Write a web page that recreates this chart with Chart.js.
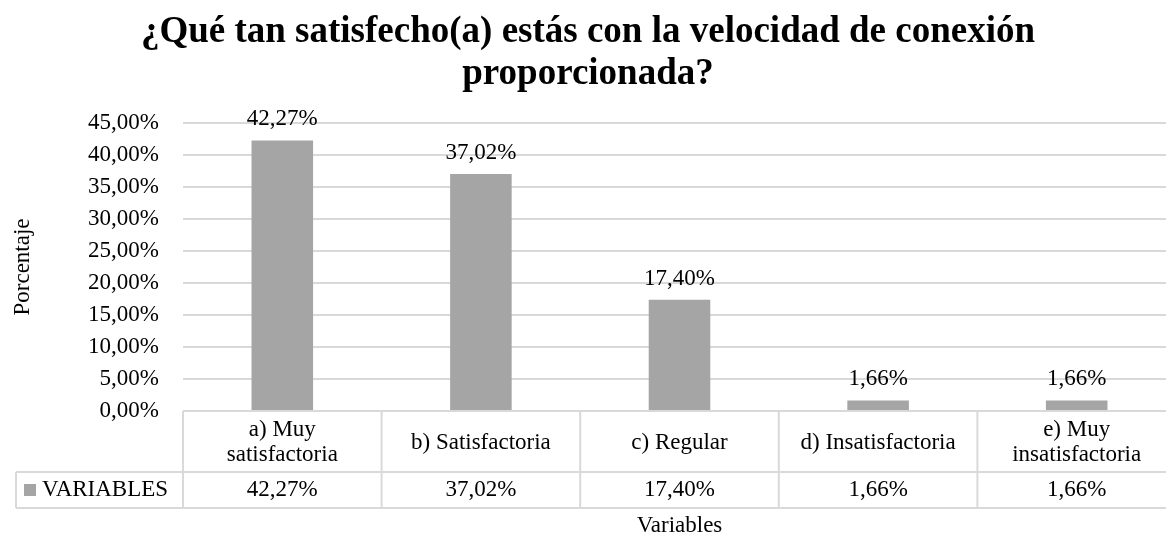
<!DOCTYPE html>
<html lang="es">
<head>
<meta charset="utf-8">
<title>Velocidad de conexión</title>
<script src="https://cdn.jsdelivr.net/npm/chart.js@4.4.1/dist/chart.umd.min.js"></script>
<style>
  html, body { margin: 0; padding: 0; background: #fff; overflow: hidden; }
  #wrap { width: 1180px; height: 541px; position: relative; }
</style>
</head>
<body>
<div id="wrap"><canvas id="chart"></canvas></div>
<script>
// ------------------------------------------------------------
// Data
// ------------------------------------------------------------
const CATEGORIES = [
  ['a) Muy', 'satisfactoria'],
  ['b) Satisfactoria'],
  ['c) Regular'],
  ['d) Insatisfactoria'],
  ['e) Muy', 'insatisfactoria']
];
const VALUES = [42.27, 37.02, 17.40, 1.66, 1.66];
const SERIES_NAME = 'VARIABLES';
const Y_MAX = 45;
const Y_STEP = 5;

const FONT = "'Liberation Serif', 'Times New Roman', serif";
const BAR_COLOR = '#a5a5a5';
const LINE_COLOR = '#d9d9d9';

// 42.27 -> "42,27%"
function pct(v) {
  return v.toFixed(2).replace('.', ',') + '%';
}

// Value labels above the bars
const barLabels = {
  id: 'barLabels',
  afterDatasetsDraw(chart) {
    const ctx = chart.ctx;
    const meta = chart.getDatasetMeta(0);
    ctx.save();
    ctx.font = '23px ' + FONT;
    ctx.fillStyle = '#000';
    ctx.textAlign = 'center';
    ctx.textBaseline = 'alphabetic';
    meta.data.forEach((bar, i) => {
      ctx.fillText(pct(VALUES[i]), bar.x, bar.y - 15);
    });
    ctx.restore();
  }
};

// Excel-style data table under the plot
const dataTable = {
  id: 'dataTable',
  afterDraw(chart) {
    const ctx = chart.ctx;
    const area = chart.chartArea;
    const x = chart.scales.x;
    const n = CATEGORIES.length;
    const colW = (area.right - area.left) / n;
    const top = area.bottom;
    const mid = top + 61;
    const bottom = top + 97;
    const legendLeft = 16;

    ctx.save();
    ctx.strokeStyle = LINE_COLOR;
    ctx.lineWidth = 2;
    ctx.beginPath();
    // horizontal lines
    ctx.moveTo(legendLeft, mid); ctx.lineTo(area.right, mid);
    ctx.moveTo(legendLeft, bottom); ctx.lineTo(area.right, bottom);
    // vertical lines
    for (let i = 0; i <= n; i++) {
      const xx = area.left + i * colW;
      ctx.moveTo(xx, top); ctx.lineTo(xx, bottom);
    }
    ctx.moveTo(legendLeft, mid); ctx.lineTo(legendLeft, bottom);
    ctx.stroke();

    ctx.font = '23px ' + FONT;
    ctx.fillStyle = '#000';
    ctx.textAlign = 'center';
    ctx.textBaseline = 'middle';
    CATEGORIES.forEach((lines, i) => {
      const cx = x.getPixelForValue(i);
      if (lines.length === 1) {
        ctx.fillText(lines[0], cx, top + 32);
      } else {
        ctx.fillText(lines[0], cx, top + 19);
        ctx.fillText(lines[1], cx, top + 44);
      }
      ctx.fillText(pct(VALUES[i]), cx, mid + 18);
    });

    // legend key
    ctx.fillStyle = BAR_COLOR;
    ctx.fillRect(24, mid + 12, 12, 12);
    ctx.fillStyle = '#000';
    ctx.textAlign = 'left';
    ctx.fillText(SERIES_NAME, 42, mid + 18);
    ctx.restore();
  }
};

new Chart(document.getElementById('chart'), {
  type: 'bar',
  data: {
    labels: CATEGORIES.map(c => c.join(' ')),
    datasets: [{
      label: SERIES_NAME,
      data: VALUES,
      backgroundColor: BAR_COLOR,
      borderWidth: 0,
      barPercentage: 0.31,
      categoryPercentage: 1
    }]
  },
  options: {
    responsive: true,
    maintainAspectRatio: false,
    animation: false,
    layout: { padding: { left: 0, right: 4, top: 0, bottom: 0 } },
    plugins: {
      legend: { display: false },
      tooltip: { enabled: false },
      title: {
        display: true,
        text: ['¿Qué tan satisfecho(a) estás con la velocidad de conexión', 'proporcionada?'],
        color: '#000',
        font: { family: FONT, size: 37, weight: 'bold', lineHeight: 42 / 37 },
        padding: { top: 11, bottom: 28 }
      }
    },
    scales: {
      x: {
        grid: { display: false },
        border: { display: false },
        ticks: { display: false },
        title: {
          display: true,
          text: 'Variables',
          color: '#000',
          font: { family: FONT, size: 23 },
          padding: { top: 0, bottom: 1 }
        },
        afterFit(scale) { scale.height = 130; }
      },
      y: {
        min: 0,
        max: Y_MAX,
        border: { display: false },
        grid: { color: LINE_COLOR, lineWidth: 2, drawTicks: false },
        ticks: {
          stepSize: Y_STEP,
          padding: 24,
          color: '#000',
          font: { family: FONT, size: 23 },
          callback: v => pct(v)
        },
        title: {
          display: true,
          text: 'Porcentaje',
          color: '#000',
          font: { family: FONT, size: 23 },
          padding: { top: 9, bottom: 0 }
        },
        afterFit(scale) { scale.width = 183; }
      }
    }
  },
  plugins: [barLabels, dataTable]
});
</script>
</body>
</html>
